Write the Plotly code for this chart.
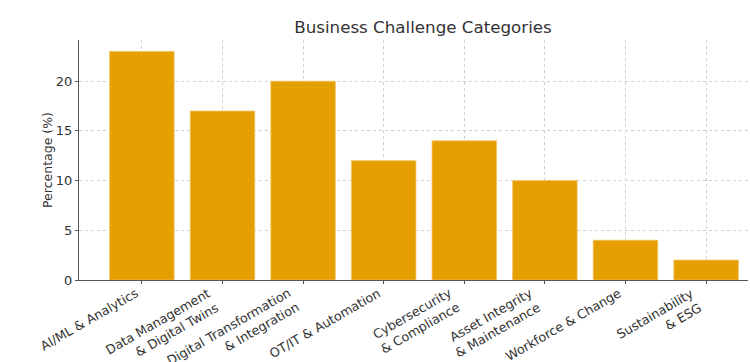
import plotly.graph_objects as go

categories = [
    "AI/ML & Analytics",
    "Data Management<br>& Digital Twins",
    "Digital Transformation<br>& Integration",
    "OT/IT & Automation",
    "Cybersecurity<br>& Compliance",
    "Asset Integrity<br>& Maintenance",
    "Workforce & Change",
    "Sustainability<br>& ESG",
]
percentages = [23, 17, 20, 12, 14, 10, 4, 2]
y_ticks = [0, 5, 10, 15, 20]

positions = list(range(len(categories)))

fig = go.Figure(
    go.Bar(
        x=positions,
        y=percentages,
        width=0.8,
        marker=dict(color="#E69F00", line=dict(color="#F2C35E", width=0.8)),
    )
)

# category labels rotated 30 deg, right edge of rotated box at the tick (matplotlib ha='right')
for pos, label in zip(positions, categories):
    fig.add_annotation(
        x=pos,
        xref="x",
        y=0,
        yref="paper",
        text=label,
        showarrow=False,
        textangle=-30,
        xanchor="right",
        yanchor="top",
        align="right",
        yshift=-4,
        borderpad=0,
        font=dict(family="DejaVu Sans", size=12.7, color="#333333"),
    )

fig.update_layout(
    width=750,
    height=362,
    margin=dict(l=79, r=2, t=40, b=82),
    paper_bgcolor="white",
    plot_bgcolor="white",
    font=dict(family="DejaVu Sans", color="#333333", size=12),
    title=dict(
        text="Business Challenge Categories",
        x=423 / 750,
        xanchor="center",
        y=1 - 27 / 362,
        yanchor="middle",
        font=dict(size=16.7, color="#333333"),
    ),
    showlegend=False,
    bargap=0.2,
)

fig.update_xaxes(
    range=[-0.78, 7.52],
    automargin=False,
    tickmode="array",
    tickvals=positions,
    showticklabels=False,
    showgrid=True,
    gridcolor="#d0d0d0",
    griddash="dot",
    gridwidth=0.8,
    showline=True,
    linecolor="#555555",
    linewidth=1.2,
    ticks="outside",
    ticklen=3,
    tickcolor="#555555",
    zeroline=False,
)

fig.update_yaxes(
    range=[0, 24.15],
    automargin=False,
    tickmode="array",
    tickvals=y_ticks,
    showgrid=True,
    gridcolor="#d0d0d0",
    griddash="dot",
    gridwidth=0.8,
    showline=True,
    linecolor="#555555",
    linewidth=1.2,
    ticks="outside",
    ticklen=3,
    tickcolor="#555555",
    zeroline=False,
    title=dict(text="Percentage (%)", font=dict(size=12.5, color="#333333"), standoff=0),
    tickfont=dict(size=13, color="#333333"),
)

fig.write_html("out.html")
